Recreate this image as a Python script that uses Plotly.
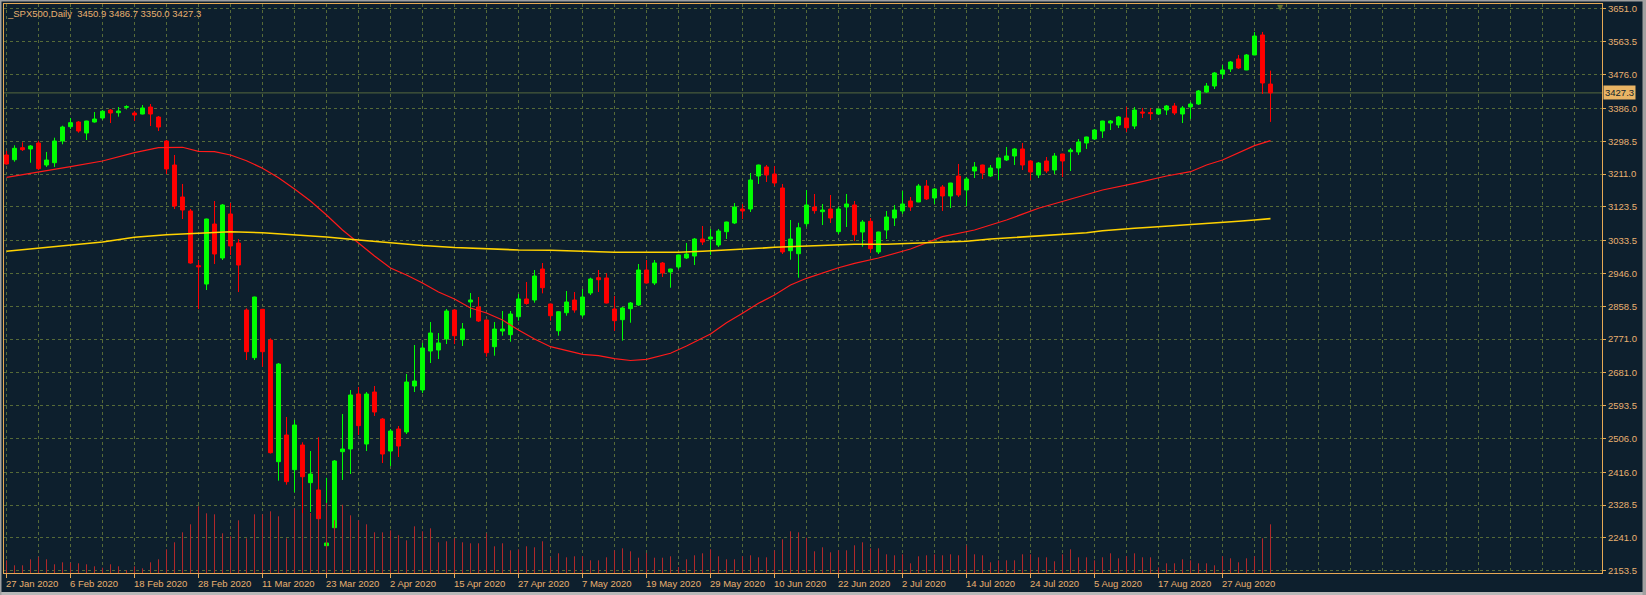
import plotly.graph_objects as go

# ---------------- data ----------------
symbol = "_SPX500,Daily"

tick_labels = ["27 Jan 2020", "6 Feb 2020", "18 Feb 2020", "28 Feb 2020", "11 Mar 2020",
               "23 Mar 2020", "2 Apr 2020", "15 Apr 2020", "27 Apr 2020", "7 May 2020",
               "19 May 2020", "29 May 2020", "10 Jun 2020", "22 Jun 2020", "2 Jul 2020",
               "14 Jul 2020", "24 Jul 2020", "5 Aug 2020", "17 Aug 2020", "27 Aug 2020"]
bars_per_label = 8

price_ticks = [3651.0, 3563.5, 3476.0, 3386.0, 3298.5, 3211.0, 3123.5, 3033.5, 2946.0,
               2858.5, 2771.0, 2681.0, 2593.5, 2506.0, 2416.0, 2328.5, 2241.0, 2153.5]

opens = [3261.8, 3249.2, 3281.2, 3277.8, 3293.8, 3235.1, 3241.2, 3299.1, 3337.2, 3349.7,
         3320.4, 3349.7, 3360.4, 3381.7, 3374.5, 3389.0, 3373.7, 3371.0, 3389.7, 3363.0,
         3299.1, 3235.1, 3149.8, 3112.5, 2966.6, 2917.8, 3077.8, 2987.2, 3104.5, 3027.2,
         2848.5, 2721.4, 2850.4, 2768.5, 2444.1, 2515.3, 2422.8, 2488.6, 2388.2, 2368.7,
         2220.2, 2268.2, 2470.8, 2478.0, 2624.6, 2491.3, 2629.9, 2557.9, 2472.6, 2531.3,
         2523.3, 2645.9, 2635.3, 2739.2, 2741.9, 2771.2, 2848.5, 2769.4, 2869.9, 2856.6,
         2821.9, 2750.7, 2792.5, 2782.7, 2830.6, 2877.9, 2875.2, 2957.8, 2864.6, 2793.3,
         2841.3, 2875.2, 2835.2, 2893.9, 2934.7, 2933.9, 2851.2, 2822.7, 2852.0, 2861.9,
         2955.2, 2920.5, 2973.8, 2949.8, 2963.2, 2987.2, 2992.5, 3037.8, 3037.8, 3021.8,
         3057.3, 3080.5, 3117.8, 3117.8, 3205.8, 3229.8, 3211.1, 3173.8, 3006.6, 2998.6,
         3078.6, 3123.1, 3110.6, 3117.8, 3057.3, 3123.1, 3128.5, 3056.5, 3085.0, 3003.2,
         3061.8, 3093.8, 3112.5, 3139.1, 3136.5, 3179.1, 3147.1, 3176.4, 3152.5, 3205.8,
         3168.5, 3219.1, 3235.1, 3205.8, 3227.1, 3248.4, 3259.1, 3277.8, 3245.8, 3208.4,
         3245.8, 3221.8, 3264.4, 3270.6, 3269.8, 3293.8, 3304.4, 3325.7, 3347.0, 3341.7,
         3360.4, 3339.0, 3376.4, 3375.0, 3371.0, 3381.7, 3392.4, 3371.0, 3389.7, 3397.7,
         3429.7, 3445.7, 3477.7, 3491.0, 3517.7, 3488.4, 3528.4, 3581.7, 3450.9]

highs = [3272.4, 3287.6, 3295.6, 3288.4, 3299.9, 3269.8, 3307.9, 3339.9, 3360.4, 3352.4,
         3353.0, 3376.4, 3381.7, 3384.4, 3389.7, 3394.3, 3379.0, 3395.0, 3397.7, 3365.7,
         3301.8, 3261.8, 3184.5, 3117.8, 2981.8, 3092.0, 3139.1, 3131.1, 3133.8, 3037.8,
         2853.0, 2884.0, 2851.5, 2773.0, 2707.2, 2563.3, 2555.3, 2495.8, 2472.6, 2509.1,
         2401.0, 2448.6, 2571.3, 2635.3, 2643.3, 2629.9, 2645.9, 2560.6, 2531.3, 2539.3,
         2677.9, 2755.2, 2760.6, 2816.5, 2787.2, 2851.2, 2851.0, 2813.9, 2893.9, 2883.2,
         2823.0, 2816.5, 2845.9, 2845.9, 2891.2, 2923.2, 2955.2, 2973.8, 2865.5, 2845.0,
         2899.2, 2896.5, 2904.5, 2934.7, 2955.2, 2946.4, 2885.8, 2856.5, 2869.9, 2971.2,
         2981.8, 2981.8, 2976.5, 2958.5, 2996.0, 3027.2, 3040.5, 3072.5, 3064.5, 3064.5,
         3084.0, 3133.8, 3131.1, 3213.8, 3236.0, 3235.1, 3232.4, 3184.5, 3088.5, 3081.1,
         3168.5, 3157.8, 3131.1, 3155.1, 3124.0, 3157.8, 3139.1, 3088.5, 3093.8, 3057.0,
         3112.5, 3128.5, 3165.8, 3149.8, 3184.5, 3195.1, 3173.8, 3181.8, 3187.5, 3237.8,
         3203.1, 3243.1, 3236.0, 3235.1, 3254.5, 3283.1, 3280.5, 3293.8, 3248.4, 3243.1,
         3256.4, 3267.1, 3265.0, 3280.5, 3304.4, 3310.5, 3331.1, 3353.0, 3355.0, 3365.7,
         3389.7, 3389.7, 3387.1, 3387.1, 3384.4, 3395.0, 3400.4, 3392.4, 3403.1, 3435.0,
         3453.7, 3483.0, 3501.7, 3512.4, 3528.4, 3531.0, 3589.7, 3589.7, 3486.7]

lows = [3236.0, 3243.9, 3272.4, 3241.2, 3221.8, 3229.8, 3229.8, 3290.3, 3331.1, 3321.2,
        3301.8, 3348.0, 3355.0, 3347.0, 3363.9, 3383.6, 3352.4, 3370.0, 3339.0, 3325.7,
        3211.1, 3117.8, 3091.1, 2972.0, 2851.0, 2901.8, 2971.2, 2981.8, 2995.2, 2896.5,
        2715.2, 2715.2, 2697.4, 2466.0, 2393.5, 2382.8, 2362.5, 2280.0, 2310.0, 2280.0,
        2195.0, 2266.0, 2395.4, 2411.3, 2515.3, 2472.6, 2566.0, 2440.6, 2432.6, 2456.6,
        2517.9, 2629.9, 2627.2, 2707.2, 2717.9, 2757.9, 2758.0, 2752.6, 2828.0, 2816.5,
        2724.0, 2726.7, 2780.0, 2764.0, 2820.0, 2862.6, 2868.0, 2893.0, 2820.0, 2780.0,
        2833.3, 2841.3, 2829.0, 2888.5, 2896.5, 2866.0, 2792.5, 2766.7, 2814.6, 2859.2,
        2919.0, 2915.2, 2936.5, 2908.0, 2957.8, 2984.5, 2968.5, 3021.8, 2995.2, 3016.5,
        3037.8, 3077.8, 3091.1, 3109.8, 3184.5, 3189.8, 3179.1, 2997.8, 2982.6, 2934.7,
        3070.6, 3105.3, 3075.1, 3080.5, 3051.1, 3069.8, 3032.5, 3017.3, 3001.3, 2997.8,
        3037.8, 3072.5, 3104.5, 3112.5, 3136.0, 3141.8, 3131.1, 3112.5, 3120.5, 3149.8,
        3125.8, 3200.4, 3197.8, 3203.1, 3195.1, 3245.8, 3235.1, 3221.8, 3195.1, 3200.4,
        3213.8, 3211.1, 3203.1, 3219.1, 3261.8, 3277.8, 3301.8, 3307.1, 3328.4, 3333.7,
        3323.1, 3331.1, 3360.4, 3355.0, 3368.4, 3368.4, 3368.4, 3347.0, 3357.7, 3395.0,
        3427.1, 3437.7, 3464.4, 3483.0, 3491.0, 3488.0, 3528.0, 3424.4, 3350.0]

closes = [3237.8, 3279.6, 3275.9, 3285.8, 3225.2, 3248.4, 3299.1, 3336.4, 3347.9, 3325.7,
          3352.4, 3357.7, 3378.3, 3373.7, 3379.0, 3390.5, 3368.4, 3387.1, 3371.0, 3336.4,
          3224.5, 3125.8, 3115.1, 2973.8, 2964.0, 3091.1, 2997.8, 3128.5, 3019.2, 2968.5,
          2737.4, 2883.2, 2737.4, 2468.1, 2704.5, 2390.8, 2541.9, 2404.1, 2411.3, 2292.1,
          2227.4, 2446.0, 2478.0, 2621.9, 2540.1, 2624.6, 2576.6, 2464.6, 2525.9, 2485.9,
          2656.6, 2659.2, 2747.2, 2787.2, 2760.6, 2845.9, 2780.0, 2797.8, 2875.2, 2819.2,
          2734.7, 2797.8, 2797.8, 2837.9, 2877.9, 2865.9, 2939.2, 2908.0, 2833.3, 2844.0,
          2869.9, 2848.5, 2883.2, 2931.2, 2929.3, 2867.2, 2820.0, 2853.9, 2867.2, 2955.2,
          2920.5, 2973.8, 2947.2, 2957.8, 2995.2, 2997.8, 3037.8, 3029.8, 3043.2, 3059.1,
          3083.1, 3123.1, 3112.5, 3195.1, 3235.1, 3208.4, 3187.1, 3003.2, 3037.8, 3067.8,
          3128.5, 3113.3, 3115.1, 3093.8, 3117.8, 3131.1, 3049.3, 3083.1, 3012.0, 3056.5,
          3096.5, 3115.1, 3131.1, 3123.1, 3179.1, 3144.5, 3171.1, 3152.5, 3187.1, 3155.1,
          3197.8, 3229.8, 3213.8, 3227.1, 3253.8, 3259.1, 3277.8, 3235.1, 3216.4, 3240.4,
          3219.1, 3259.1, 3245.8, 3275.1, 3296.4, 3309.8, 3328.4, 3352.4, 3352.4, 3363.1,
          3334.4, 3381.7, 3373.7, 3372.0, 3384.4, 3392.4, 3373.7, 3387.1, 3397.7, 3432.4,
          3445.7, 3480.4, 3488.4, 3509.7, 3493.7, 3528.4, 3579.0, 3453.7, 3427.3]

volumes = [12.7, 7.7, 7.7, 13.7, 16.0, 13.7, 8.7, 10.7, 10.3, 9.7,
           8.7, 6.7, 5.3, 8.7, 6.7, 2.7, 6.7, 4.7, 10.7, 13.7,
           23.7, 30.7, 40.7, 48.7, 66.7, 59.7, 58.7, 39.7, 36.7, 52.7,
           34.7, 58.7, 58.7, 61.7, 56.7, 34.7, 64.7, 60.0, 60.0, 58.0,
           70.0, 52.7, 68.3, 57.7, 52.7, 48.7, 40.7, 40.7, 42.7, 37.7,
           32.7, 46.7, 41.7, 44.7, 30.7, 31.7, 34.7, 30.7, 29.7, 29.7,
           39.7, 26.7, 29.7, 22.7, 23.7, 26.7, 25.7, 31.7, 15.7, 19.7,
           15.7, 16.7, 16.7, 12.7, 12.7, 15.7, 22.7, 24.7, 21.7, 15.3,
           20.0, 15.3, 15.3, 16.7, 6.0, 13.7, 17.7, 19.7, 23.7, 16.7,
           13.7, 13.7, 16.7, 17.7, 15.7, 15.7, 22.7, 33.7, 41.7, 40.7,
           35.3, 21.7, 25.7, 20.7, 22.7, 22.7, 27.7, 30.7, 24.7, 24.7,
           18.7, 17.7, 18.7, 9.7, 16.7, 17.7, 18.7, 17.7, 18.7, 17.7,
           27.7, 18.7, 17.7, 10.7, 12.7, 12.7, 12.7, 18.7, 18.7, 15.7,
           15.7, 11.7, 18.7, 23.7, 15.7, 15.7, 12.7, 15.7, 19.7, 14.7,
           16.7, 19.7, 15.7, 15.7, 5.7, 9.7, 9.7, 13.7, 12.7, 9.7,
           9.7, 7.7, 16.7, 14.7, 10.7, 14.7, 16.7, 34.7, 48.7]

ma50_bars = [0, 4, 8, 12, 16, 19, 22, 24, 26, 28, 30, 32, 34, 36, 38, 40, 42, 44, 46, 48,
             50, 52, 54, 56, 58, 60, 62, 64, 66, 68, 72, 74, 76, 78, 80, 83, 85, 88, 90, 92,
             94, 96, 98, 100, 102, 104, 106, 109, 113, 117, 121, 125, 129, 133, 137, 141,
             145, 148, 150, 152, 154, 156, 158]
ma50_vals = [3202.3, 3215.6, 3230.6, 3245.8, 3267.9, 3281.2, 3282.3, 3271.6, 3270.6, 3261.8,
             3246.6, 3226.3, 3201.2, 3171.1, 3139.1, 3101.8, 3061.8, 3027.2, 2992.5, 2960.5,
             2941.8, 2920.5, 2896.5, 2877.9, 2853.9, 2840.5, 2821.9, 2795.2, 2771.2, 2750.7,
             2730.4, 2726.7, 2718.7, 2713.9, 2717.1, 2733.1, 2752.6, 2784.5, 2814.7, 2839.7,
             2866.4, 2888.5, 2915.2, 2933.0, 2948.0, 2961.3, 2973.0, 2987.2, 3011.2, 3044.0,
             3061.8, 3088.5, 3119.7, 3143.7, 3168.5, 3186.3, 3205.8, 3217.2, 3235.1, 3248.4,
             3267.9, 3286.6, 3299.9]

ma200_bars = [0, 4, 8, 12, 16, 20, 24, 28, 32, 36, 40, 44, 48, 52, 56, 60, 64, 68, 72, 76,
              80, 84, 87, 90, 92, 94, 96, 99, 102, 106, 110, 113, 116, 120, 123, 126, 128,
              130, 132, 135, 137, 139, 141, 143, 145, 147, 149, 151, 154, 156, 158]
ma200_vals = [3005.0, 3013.0, 3021.8, 3029.8, 3042.3, 3049.3, 3053.0, 3057.3, 3054.6, 3049.3,
              3043.2, 3035.2, 3027.2, 3020.5, 3015.2, 3011.2, 3008.5, 3007.7, 3005.0, 3002.4,
              3002.4, 3002.4, 3005.0, 3007.7, 3010.4, 3013.0, 3015.7, 3018.4, 3021.0, 3023.7,
              3023.7, 3026.4, 3029.0, 3031.7, 3037.8, 3042.3, 3045.0, 3047.7, 3051.2, 3054.6,
              3059.7, 3063.7, 3066.4, 3069.0, 3071.7, 3074.4, 3077.0, 3079.7, 3085.0, 3088.5,
              3092.0]

# ---------------- style ----------------
BG = "#0d1f2d"
GRID = "#566a38"
FRAME = "#e6a955"
TEXT = "#e8b070"
UP = "#00ff00"
DOWN = "#ff0000"
VOL = "#b0282a"
FONT = "Liberation Sans"
FS = 9.5

W, H = 1646, 595
ML, MR, MT, MB = 4, 44, 4, 22
plot_w = W - ML - MR
plot_h = H - MT - MB
px_per_bar = 8
x_left = -0.3125
x_right = x_left + plot_w / px_per_bar
y_top = 3664.3
y_bottom = 2147.4

n = len(closes)
idx = list(range(n))

fig = go.Figure()

fig.add_trace(go.Candlestick(
    x=idx, open=opens, high=highs, low=lows, close=closes,
    increasing=dict(line=dict(color=UP, width=1), fillcolor=UP),
    decreasing=dict(line=dict(color=DOWN, width=1), fillcolor=DOWN),
    whiskerwidth=0, hoverinfo="skip", showlegend=False, yaxis="y"))

fig.add_trace(go.Scatter(x=ma50_bars, y=ma50_vals, mode="lines",
                         line=dict(color="#ff1a1a", width=1.2),
                         hoverinfo="skip", showlegend=False, yaxis="y"))
fig.add_trace(go.Scatter(x=ma200_bars, y=ma200_vals, mode="lines",
                         line=dict(color="#ffd200", width=1.6),
                         hoverinfo="skip", showlegend=False, yaxis="y"))

# volume drawn on top (like the terminal does)
vx, vy = [], []
for i, v in zip(idx, volumes):
    vx += [i, i, None]
    vy += [0, v, None]
fig.add_trace(go.Scatter(x=vx, y=vy, mode="lines", line=dict(color=VOL, width=1),
                         hoverinfo="skip", showlegend=False, yaxis="y2"))

tick_bars = [k * bars_per_label for k in range(len(tick_labels))]

annotations = []
for b, lab in zip(tick_bars, tick_labels):
    annotations.append(dict(x=b, y=0, xref="x", yref="paper", text=lab, showarrow=False,
                            xanchor="left", yanchor="top", xshift=-3, yshift=-3,
                            font=dict(family=FONT, size=FS, color=TEXT)))

o, h, l, c = opens[-1], highs[-1], lows[-1], closes[-1]
annotations.append(dict(x=0, y=1, xref="paper", yref="paper",
                        text=f"{symbol}\u00a0\u00a0{o:.1f} {h:.1f} {l:.1f} {c:.1f}",
                        showarrow=False, xanchor="left", yanchor="top", xshift=1, yshift=-2,
                        font=dict(family=FONT, size=FS, color=TEXT)))
annotations.append(dict(x=1, y=c, xref="paper", yref="y", text=f"{c:.1f}",
                        showarrow=False, xanchor="left", yanchor="middle", xshift=1,
                        bgcolor="#e9b464", borderpad=1,
                        font=dict(family=FONT, size=FS, color=BG)))
annotations.append(dict(x=n + 0.3, y=1, xref="x", yref="paper", text="\u25bc",
                        showarrow=False, xanchor="center", yanchor="top", yshift=3,
                        font=dict(family="DejaVu Sans", size=8, color="#5f6f30")))

def px_x(p):
    return (p - ML) / plot_w

def px_y(p):
    return (H - MB - p) / plot_h

shapes = [
    dict(type="line", xref="paper", yref="y", x0=0, x1=1, y0=c, y1=c,
         line=dict(color="#56683f", width=1), layer="below"),
    dict(type="rect", xref="paper", yref="paper", x0=px_x(0), x1=px_x(W), y0=px_y(592), y1=px_y(H),
         fillcolor="#b8b8b8", line=dict(width=0), layer="above"),
    dict(type="rect", xref="paper", yref="paper", x0=px_x(0), x1=px_x(W), y0=px_y(1.5), y1=px_y(0),
         fillcolor="#a0a0a0", line=dict(width=0), layer="above"),
    dict(type="rect", xref="paper", yref="paper", x0=px_x(0), x1=px_x(1.5), y0=px_y(H), y1=px_y(0),
         fillcolor="#a0a0a0", line=dict(width=0), layer="above"),
    dict(type="rect", xref="paper", yref="paper", x0=px_x(1642.5), x1=px_x(W), y0=px_y(H), y1=px_y(0),
         fillcolor="#a0a0a0", line=dict(width=0), layer="above"),
]

fig.update_layout(
    width=W, height=H,
    margin=dict(l=ML, r=MR, t=MT, b=MB, pad=0),
    paper_bgcolor=BG, plot_bgcolor=BG,
    showlegend=False, hovermode=False,
    annotations=annotations, shapes=shapes,
    xaxis=dict(range=[x_left, x_right], rangeslider=dict(visible=False),
               tickvals=tick_bars, showticklabels=False,
               ticks="outside", ticklen=4, tickcolor=FRAME, tickwidth=1,
               showgrid=True, gridcolor=GRID, griddash="3px,3px", gridwidth=1,
               minor=dict(dtick=4, tick0=0, showgrid=True, gridcolor=GRID,
                          griddash="3px,3px", gridwidth=1, ticks=""),
               showline=True, linecolor=FRAME, linewidth=1, mirror=True,
               zeroline=False, fixedrange=True),
    yaxis=dict(range=[y_bottom, y_top], side="right",
               tickvals=price_ticks, ticktext=[f"{v:.1f}" for v in price_ticks],
               ticks="outside", ticklen=3, tickcolor=FRAME, tickwidth=1,
               tickfont=dict(family=FONT, size=FS, color=TEXT),
               showgrid=True, gridcolor=GRID, griddash="3px,3px", gridwidth=1,
               showline=True, linecolor=FRAME, linewidth=1, mirror=True,
               zeroline=False, fixedrange=True),
    yaxis2=dict(range=[0, plot_h], overlaying="y", visible=False, fixedrange=True),
)

fig.write_html("out.html")
